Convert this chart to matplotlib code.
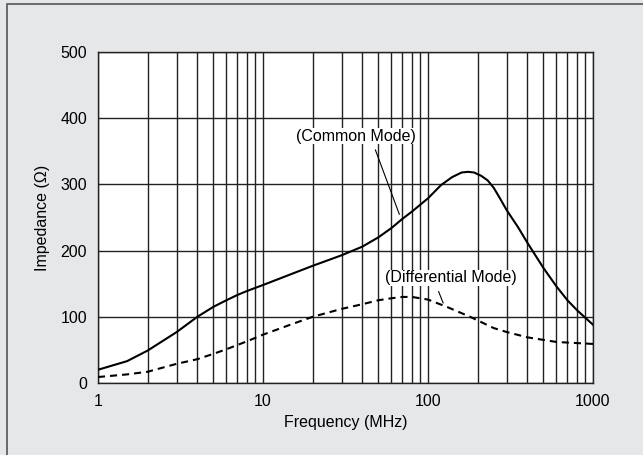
import matplotlib.pyplot as plt
from matplotlib.patches import Rectangle

# Kurvendaten
freq_cm = [1, 1.5, 2, 3, 4, 5, 6, 7, 8, 10, 15, 20, 30, 40, 50, 60, 70, 80,
           100, 120, 140, 160, 175, 190, 210, 230, 250, 270, 300, 350, 400,
           500, 600, 700, 800, 1000]
imp_cm = [20, 33, 49, 77, 100, 115, 125, 133, 139, 148, 165, 177, 193, 206, 220,
          234, 248, 259, 279, 299, 311, 318, 319, 318, 313, 306, 295, 281, 261,
          236, 212, 174, 146, 125, 110, 88]

freq_dm = [1, 1.5, 2, 3, 4, 5, 6, 8, 10, 15, 20, 30, 40, 50, 60, 70, 80, 100,
           130, 180, 250, 300, 400, 600, 1000]
imp_dm = [9, 13, 17, 29, 36, 44, 51, 63, 73, 89, 100, 112, 119, 125, 128, 130,
          130, 126, 115, 100, 83, 77, 69, 62, 59]

x_ticks = [1, 10, 100, 1000]
x_tick_labels = ["1", "10", "100", "1000"]
y_ticks = [0, 100, 200, 300, 400, 500]

plt.rcParams["font.family"] = ["Liberation Sans", "DejaVu Sans"]
plt.rcParams["font.size"] = 11.5

fig = plt.figure(figsize=(6.43, 4.55), dpi=100)
fig.patch.set_facecolor("#e6e7e9")

# Rahmen um die Grafik (rechts/unten abgeschnitten)
fig.patches.append(Rectangle((6.5 / 643, -0.05), 1.2, 1 - 4.5 / 455 + 0.05,
                             transform=fig.transFigure, fill=False,
                             edgecolor="#555555", linewidth=1.2))

ax = fig.add_axes([98 / 643, 1 - 383 / 455, 495 / 643, 331 / 455])
ax.set_facecolor("white")
ax.set_xscale("log")
ax.set_xlim(1, 1000)
ax.set_ylim(0, 500)

ax.set_xticks(x_ticks)
ax.set_xticklabels(x_tick_labels)
ax.set_yticks(y_ticks)
ax.tick_params(which="both", length=0, pad=8, labelsize=11.5)

ax.grid(which="major", color="#222222", linewidth=1.0)
ax.grid(which="minor", axis="x", color="#222222", linewidth=1.0)
for s in ax.spines.values():
    s.set_color("#222222")
    s.set_linewidth(1.0)

ax.plot(freq_cm, imp_cm, color="black", linewidth=1.5, zorder=3)
ax.plot(freq_dm, imp_dm, color="black", linewidth=1.5, dashes=(3.4, 2.4), zorder=3)

# Beschriftungen
ax.text(36.8, 373, "(Common Mode)", ha="center", va="center",
        bbox=dict(facecolor="white", edgecolor="none", pad=0.5), zorder=4)
ax.plot([48, 67], [352, 255], color="black", linewidth=0.8, zorder=4)

ax.text(138, 159, "(Differential Mode)", ha="center", va="center",
        bbox=dict(facecolor="white", edgecolor="none", pad=0.5), zorder=4)
ax.plot([116, 123.5], [138, 121], color="black", linewidth=0.8, zorder=4)

ax.set_xlabel("Frequency (MHz)", labelpad=4)
ax.set_ylabel("Impedance (Ω)", labelpad=7)

fig.savefig("out.png", dpi=100, facecolor=fig.get_facecolor())
